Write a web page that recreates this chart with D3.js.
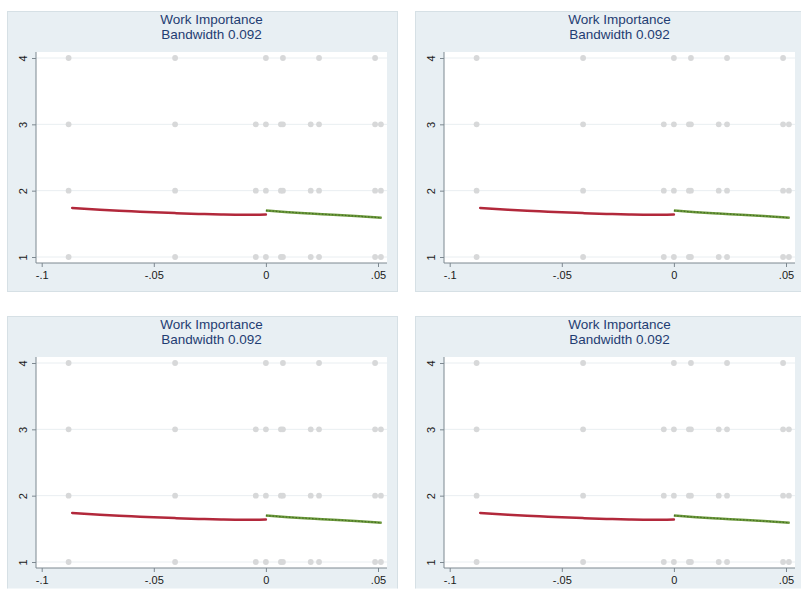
<!DOCTYPE html>
<html>
<head>
<meta charset="utf-8">
<script src="https://cdn.jsdelivr.net/npm/d3@7"></script>
<style>
  html, body { margin: 0; padding: 0; background: #ffffff; }
  svg { display: block; font-family: "Liberation Sans", Arial, sans-serif; }
</style>
</head>
<body>
<svg id="chart" width="801" height="591"></svg>
<script>
// Regression-discontinuity panels: outcome vs. running variable
const titleLines = ["Work Importance", "Bandwidth 0.092"];
const xTicks = [-0.1, -0.05, 0, 0.05];
const xTickLabels = ["-.1", "-.05", "0", ".05"];
const yTicks = [1, 2, 3, 4];

// Raw observations (running variable, response)
const scatterX = [-0.088, -0.0405, -0.0045, 0, 0.0067, 0.0076, 0.0200, 0.0237, 0.0487, 0.0513];
const scatterTopX = [-0.088, -0.0405, 0, 0.0076, 0.0237, 0.0487];

// Local fit left of cutoff
const leftX = [-0.0864, -0.074, -0.06, -0.05, -0.04, -0.03, -0.02, -0.01, 0];
const leftY = [1.739, 1.713, 1.690, 1.673, 1.661, 1.650, 1.641, 1.636, 1.642];
// Local fit right of cutoff
const rightX = [0, 0.01, 0.02, 0.03, 0.04, 0.0516];
const rightY = [1.700, 1.676, 1.656, 1.637, 1.617, 1.592];

const svg = d3.select("#chart");

svg.append("defs").append("clipPath").attr("id", "page")
  .append("rect").attr("x", 0).attr("y", 0).attr("width", 801).attr("height", 588.5);

const panels = [
  { dx: 0, dy: 0 },
  { dx: 408, dy: 0 },
  { dx: 0, dy: 305 },
  { dx: 408, dy: 305 }
];

const root = svg.append("g").attr("clip-path", "url(#page)");

function drawPanel(p) {
  const g = root.append("g").attr("transform", `translate(${p.dx},${p.dy})`);

  // Panel background
  g.append("rect")
    .attr("x", 7.5).attr("y", 11.5).attr("width", 390).attr("height", 280)
    .attr("fill", "#e8eff3").attr("stroke", "#d6e0e5").attr("stroke-width", 1);

  // Plot region
  const plot = { left: 36, top: 52, right: 387, bottom: 263 };
  g.append("rect")
    .attr("x", plot.left).attr("y", plot.top)
    .attr("width", plot.right - plot.left).attr("height", plot.bottom - plot.top)
    .attr("fill", "#ffffff");

  const x = d3.scaleLinear().domain([-0.1, 0.05]).range([41.7, 378]);
  const y = d3.scaleLinear().domain([1, 4]).range([257, 58]);

  // Gridlines
  g.append("g").selectAll("line").data(yTicks).join("line")
    .attr("x1", plot.left).attr("x2", plot.right)
    .attr("y1", d => y(d)).attr("y2", d => y(d))
    .attr("stroke", "#e9eef1").attr("stroke-width", 1);

  // Title (two lines)
  const cx = (plot.left + plot.right) / 2;
  g.append("g").selectAll("text").data(titleLines).join("text")
    .attr("x", cx).attr("y", (d, i) => 23.5 + i * 15)
    .attr("text-anchor", "middle")
    .attr("fill", "#1f3d72")
    .attr("font-size", "13.5px")
    .text(d => d);

  // Scatter points
  const pts = [];
  [1, 2, 3].forEach(v => scatterX.forEach(sx => pts.push([sx, v])));
  scatterTopX.forEach(sx => pts.push([sx, 4]));
  g.append("g").selectAll("circle").data(pts).join("circle")
    .attr("cx", d => x(d[0])).attr("cy", d => y(d[1]))
    .attr("r", 2.9).attr("fill", "#d7d8d9");

  const line = d3.line().x(d => x(d[0])).y(d => y(d[1])).curve(d3.curveMonotoneX);

  // Left fit
  g.append("path")
    .datum(leftX.map((v, i) => [v, leftY[i]]))
    .attr("d", line).attr("fill", "none")
    .attr("stroke", "#b2283b").attr("stroke-width", 2.5).attr("stroke-linecap", "round");

  // Right fit
  const rightData = rightX.map((v, i) => [v, rightY[i]]);
  g.append("path").datum(rightData)
    .attr("d", line).attr("fill", "none")
    .attr("stroke", "#6d9a3c").attr("stroke-width", 2.5);
  g.append("path").datum(rightData)
    .attr("d", line).attr("fill", "none")
    .attr("stroke", "#456e25").attr("stroke-width", 1.2)
    .attr("stroke-dasharray", "1.5,1.8");

  // Y axis
  const yAxis = g.append("g").attr("transform", `translate(${plot.left},0)`)
    .call(d3.axisLeft(y).tickValues(yTicks).tickSize(4).tickPadding(6).tickFormat(d3.format("d")));
  yAxis.select(".domain").attr("stroke", "#7d8890").attr("d", `M0,${plot.top}V${plot.bottom}`);
  yAxis.selectAll(".tick line").attr("stroke", "#7d8890");
  yAxis.selectAll(".tick text")
    .attr("fill", "#1a1a1a").attr("font-size", "11px")
    .attr("font-family", "Liberation Sans, Arial, sans-serif")
    .attr("text-anchor", "middle").attr("dy", null)
    .attr("transform", "translate(-12,0) rotate(-90)")
    .attr("x", 0).attr("y", 0).attr("dominant-baseline", "middle");

  // X axis
  const xAxis = g.append("g").attr("transform", `translate(0,${plot.bottom})`)
    .call(d3.axisBottom(x).tickValues(xTicks).tickSize(4).tickPadding(4)
      .tickFormat((d, i) => xTickLabels[i]));
  xAxis.select(".domain").attr("stroke", "#7d8890").attr("d", `M${plot.left},0H${plot.right}`);
  xAxis.selectAll(".tick line").attr("stroke", "#7d8890");
  xAxis.selectAll(".tick text")
    .attr("fill", "#1a1a1a").attr("font-size", "11px")
    .attr("font-family", "Liberation Sans, Arial, sans-serif");
}

panels.forEach(drawPanel);
</script>
</body>
</html>
